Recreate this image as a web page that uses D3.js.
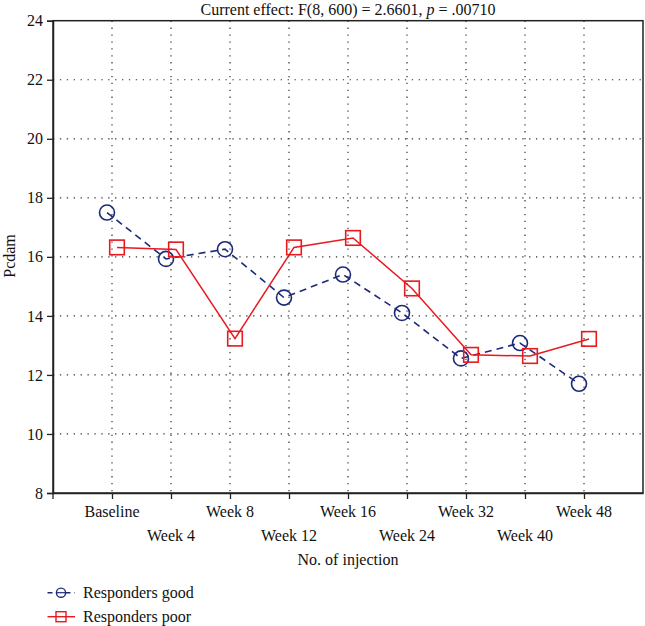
<!DOCTYPE html>
<html>
<head>
<meta charset="utf-8">
<script src="https://cdn.jsdelivr.net/npm/d3@7"></script>
<style>
  body { margin: 0; background: #fff; }
  svg { display: block; }
  text { font-family: "Liberation Serif", "DejaVu Serif", serif; fill: #111; }
</style>
</head>
<body>
<svg id="chart" width="645" height="626"></svg>
<script>
const categories = ["Baseline","Week 4","Week 8","Week 12","Week 16","Week 24","Week 32","Week 40","Week 48"];
const respondersGood = [17.5, 15.93, 16.26, 14.62, 15.4, 14.1, 12.56, 13.08, 11.7];
const respondersPoor = [16.32, 16.25, 13.23, 16.32, 16.64, 14.93, 12.68, 12.64, 13.22];
const yTicks = [8, 10, 12, 14, 16, 18, 20, 22, 24];
const seriesNames = ["Responders good", "Responders poor"];
const titleText = "Current effect: F(8, 600) = 2.6601, ";

(function () {
const svg = d3.select("#chart");
const pL = 53, pR = 643, pT = 20.7, pB = 493;

const x = d3.scalePoint().domain(categories).range([pL, pR]).padding(1);
const y = d3.scaleLinear().domain([8, 24]).range([pB, pT]);

const blue = "#1c2a78", red = "#e8191f";

// grid
const grid = svg.append("g");
grid.selectAll("line.h").data(yTicks.filter(d => d > 8 && d < 24)).enter().append("line")
  .attr("x1", pL).attr("x2", pR).attr("y1", d => y(d)).attr("y2", d => y(d))
  .attr("stroke", "#333").attr("stroke-width", 1.2).attr("stroke-dasharray", "1.3,5.6");
grid.selectAll("line.v").data(categories).enter().append("line")
  .attr("x1", d => x(d)).attr("x2", d => x(d)).attr("y1", pT).attr("y2", pB)
  .attr("stroke", "#333").attr("stroke-width", 1.2).attr("stroke-dasharray", "1.3,5.6");

// frame
svg.append("rect").attr("x", pL).attr("y", pT).attr("width", pR - pL).attr("height", pB - pT)
  .attr("fill", "none").attr("stroke", "#222").attr("stroke-width", 1.5);

// y axis
const yAxis = svg.append("g").attr("transform", `translate(${pL},0)`)
  .call(d3.axisLeft(y).tickValues(yTicks).tickSize(6).tickPadding(4).tickFormat(d3.format("d")));
yAxis.select(".domain").attr("stroke", "#222").attr("stroke-width", 1.5);
yAxis.selectAll(".tick line").attr("stroke", "#222").attr("stroke-width", 1.3);
yAxis.selectAll("text").style("font-size", "16px").attr("fill", "#111")
  .style("font-family", '"Liberation Serif", serif');

// x axis
const xAxis = svg.append("g").attr("transform", `translate(0,${pB})`)
  .call(d3.axisBottom(x).tickSize(6).tickSizeOuter(0).tickFormat(""));
xAxis.select(".domain").attr("stroke", "#222").attr("stroke-width", 1.5);
xAxis.selectAll(".tick line").attr("stroke", "#222").attr("stroke-width", 1.3);
svg.append("line").attr("x1", pL).attr("x2", pL).attr("y1", pB).attr("y2", pB + 6)
  .attr("stroke", "#222").attr("stroke-width", 1.3);

svg.append("g").selectAll("text").data(categories).enter().append("text")
  .attr("x", d => x(d))
  .attr("y", (d, i) => i % 2 === 0 ? 516.5 : 541)
  .attr("text-anchor", "middle").style("font-size", "16px").text(d => d);

// axis titles
svg.append("text").attr("x", (pL + pR) / 2).attr("y", 565).attr("text-anchor", "middle")
  .style("font-size", "16px").text("No. of injection");
svg.append("text").attr("transform", `translate(15,256) rotate(-90)`).attr("text-anchor", "middle")
  .style("font-size", "16px").text("Pcdam");

// title
const t = svg.append("text").attr("x", (pL + pR) / 2).attr("y", 15).attr("text-anchor", "middle")
  .style("font-size", "16px");
t.append("tspan").text(titleText);
t.append("tspan").style("font-style", "italic").text("p");
t.append("tspan").text(" = .00710");

// series
const off = 5;
const goodPts = categories.map((c, i) => [x(c) - off, y(respondersGood[i])]);
const poorPts = categories.map((c, i) => [x(c) + off, y(respondersPoor[i])]);
const line = d3.line();

svg.append("path").attr("d", line(goodPts)).attr("fill", "none").attr("stroke", blue)
  .attr("stroke-width", 1.6).attr("stroke-dasharray", "7,5");
svg.append("path").attr("d", line(poorPts)).attr("fill", "none").attr("stroke", red)
  .attr("stroke-width", 1.5);

svg.append("g").selectAll("circle").data(goodPts).enter().append("circle")
  .attr("cx", d => d[0]).attr("cy", d => d[1]).attr("r", 7.5)
  .attr("fill", "none").attr("stroke", blue).attr("stroke-width", 1.6);
svg.append("g").selectAll("rect").data(poorPts).enter().append("rect")
  .attr("x", d => d[0] - 7.3).attr("y", d => d[1] - 7.3).attr("width", 14.6).attr("height", 14.6)
  .attr("fill", "none").attr("stroke", red).attr("stroke-width", 1.6);

// legend
const lg = svg.append("g");
const rows = [{name: seriesNames[0], color: blue, dash: "5,4", cy: 592.7},
              {name: seriesNames[1], color: red, dash: null, cy: 616.7}];
rows.forEach((r, i) => {
  lg.append("line").attr("x1", 47.5).attr("x2", 75).attr("y1", r.cy).attr("y2", r.cy)
    .attr("stroke", r.color).attr("stroke-width", 1.4).attr("stroke-dasharray", r.dash);
  if (i === 0) {
    lg.append("circle").attr("cx", 61).attr("cy", r.cy).attr("r", 4.6)
      .attr("fill", "#fff").attr("stroke", r.color).attr("stroke-width", 1.4);
    lg.append("line").attr("x1", 57).attr("x2", 65).attr("y1", r.cy).attr("y2", r.cy)
      .attr("stroke", r.color).attr("stroke-width", 1.2);
  } else {
    lg.append("rect").attr("x", 56).attr("y", r.cy - 5).attr("width", 10).attr("height", 10)
      .attr("fill", "none").attr("stroke", r.color).attr("stroke-width", 1.4);
  }
  lg.append("text").attr("x", 83).attr("y", r.cy + 5.5).style("font-size", "16px").text(r.name);
});
})();
</script>
</body>
</html>
